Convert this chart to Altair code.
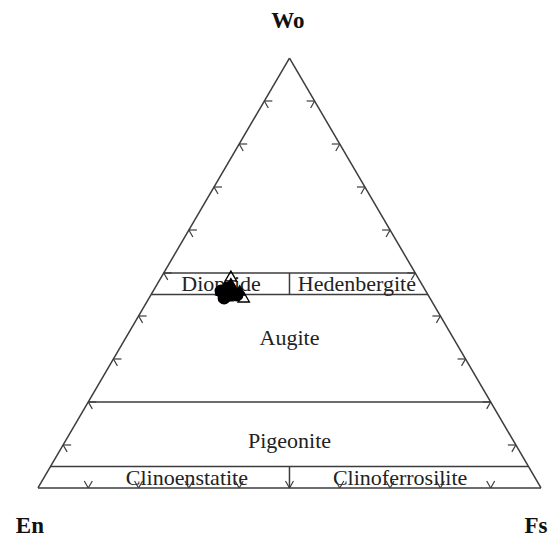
import math
import altair as alt
import pandas as pd

# ---------------- data (mol %) ----------------
# filled sample points: Wo, En, Fs
pt_wo = [47.0, 45.6, 46.3, 45.8, 44.7, 44.9, 47.7, 44.2, 46.0, 46.5, 45.2, 47.2]
pt_en = [39.3, 39.0, 37.9, 40.7, 39.9, 38.0, 37.8, 40.9, 36.9, 38.8, 38.4, 38.0]
pt_fs = [13.7, 15.4, 15.8, 13.5, 15.4, 17.1, 14.5, 14.9, 17.1, 14.7, 16.4, 14.8]
pt_shape = ["triangle-up", "circle", "triangle-up", "circle", "triangle-up",
            "circle", "triangle-up", "circle", "triangle-up", "circle",
            "circle", "triangle-up"]
# open triangles
op_wo = [49.3, 44.4]
op_en = [37.0, 36.9]
op_fs = [13.7, 18.7]

# field boundaries as segments (Wo, Fs) -> (Wo, Fs)
seg_wo1 = [0, 0, 100, 50, 45, 20, 5, 50, 5]
seg_fs1 = [0, 100, 0, 0, 0, 0, 0, 25, 47.5]
seg_wo2 = [0, 100, 0, 50, 45, 20, 5, 45, 0]
seg_fs2 = [100, 0, 0, 50, 55, 80, 95, 27.5, 50]

# tick values on each edge (%)
tick_vals = [10, 20, 30, 40, 50, 60, 70, 80, 90]

# field names and their positions in the diagram (x = Fs + Wo/2, y = Wo)
field_names = ["Diopside", "Hedenbergite", "Augite", "Pigeonite",
               "Clinoenstatite", "Clinoferrosilite"]
field_x = [0.364, 0.634, 0.5, 0.5, 0.296, 0.72]
field_y = [0.474, 0.474, 0.349, 0.109, 0.023, 0.023]

# end-member labels
end_names = ["Wo", "En", "Fs"]
end_x = [0.497, -0.016, 0.99]
end_y = [1.086, -0.088, -0.088]

# ---------------- geometry ----------------
W, H = 543, 529
XD = [-0.0596, 1.0199]
YD = [-0.1140, 1.1163]
PXX = W / (XD[1] - XD[0])
PXY = H / (YD[1] - YD[0])


def tx(wo, fs):
    return (fs + wo / 2.0) / 100.0


def ty(wo):
    return wo / 100.0


segs = pd.DataFrame({
    "x": [tx(a, b) for a, b in zip(seg_wo1, seg_fs1)],
    "y": [ty(a) for a in seg_wo1],
    "x2": [tx(a, b) for a, b in zip(seg_wo2, seg_fs2)],
    "y2": [ty(a) for a in seg_wo2],
})

# arrow-like ticks: apex on the edge, two barbs at +-30 deg of the inward normal
L = 8.0
rows = []
for v in tick_vals:
    for (wo, fs, normal) in [(v, 0, -30), (v, 100 - v, 210), (0, v, 90)]:
        x0, y0 = tx(wo, fs), ty(wo)
        for d in (-30, 30):
            a = math.radians(normal + d)
            rows.append({"x": x0, "y": y0,
                         "x2": x0 + L * math.cos(a) / PXX,
                         "y2": y0 + L * math.sin(a) / PXY})
ticks = pd.DataFrame(rows)

pts = pd.DataFrame({
    "x": [tx(a, b) for a, b in zip(pt_wo, pt_fs)],
    "y": [ty(a) for a in pt_wo],
    "shape": pt_shape,
})
opn = pd.DataFrame({
    "x": [tx(a, b) for a, b in zip(op_wo, op_fs)],
    "y": [ty(a) for a in op_wo],
})
fields = pd.DataFrame({"x": field_x, "y": field_y, "t": field_names})
ends = pd.DataFrame({"x": end_x, "y": end_y, "t": end_names})

xs = alt.Scale(domain=XD, nice=False, zero=False)
ys = alt.Scale(domain=YD, nice=False, zero=False)
X = alt.X("x:Q", scale=xs, axis=None)
Y = alt.Y("y:Q", scale=ys, axis=None)

line_col = "#3c3c3c"

lines = alt.Chart(segs).mark_rule(color=line_col, strokeWidth=1.5).encode(
    x=X, y=Y, x2="x2:Q", y2="y2:Q")
tk = alt.Chart(ticks).mark_rule(color=line_col, strokeWidth=1.2).encode(
    x=X, y=Y, x2="x2:Q", y2="y2:Q")
ftext = alt.Chart(fields).mark_text(
    font="Liberation Serif", fontSize=22, color="#222", baseline="middle"
).encode(x=X, y=Y, text="t:N")
etext = alt.Chart(ends).mark_text(
    font="Liberation Serif", fontSize=23, fontWeight="bold", color="#111",
    baseline="middle"
).encode(x=X, y=Y, text="t:N")
filled = alt.Chart(pts).mark_point(filled=True, color="black", size=170, opacity=1).encode(
    x=X, y=Y,
    shape=alt.Shape("shape:N", scale=alt.Scale(domain=["triangle-up", "circle"],
                                                range=["triangle-up", "circle"]),
                    legend=None))
openp = alt.Chart(opn).mark_point(shape="triangle-up", filled=False, color="black",
                                  size=130, strokeWidth=1.3, opacity=1).encode(x=X, y=Y)

chart = alt.layer(lines, tk, ftext, filled, openp, etext).properties(
    width=W, height=H, padding=0, autosize=alt.AutoSizeParams(type="none")
).configure_view(stroke=None)

chart.save("out.html", embed_options={"renderer": "svg", "actions": False})
